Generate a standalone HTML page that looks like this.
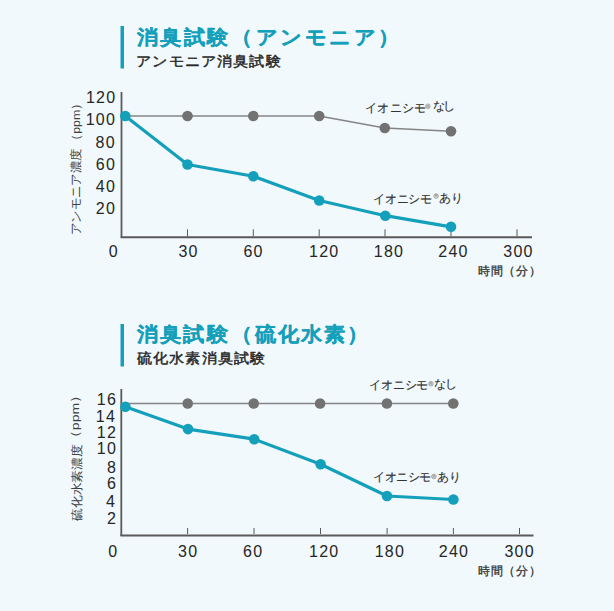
<!DOCTYPE html>
<html lang="ja">
<head>
<meta charset="utf-8">
<style>
html,body{margin:0;padding:0;background:#f1f9fc;}
body{width:614px;height:611px;overflow:hidden;position:relative;}
svg{position:absolute;left:0;top:0;font-family:"Liberation Sans",sans-serif;}
</style>
</head>
<body>
<svg width="614" height="611" viewBox="0 0 614 611">
<rect x="120.5" y="26" width="3.5" height="42.5" fill="#14a0bb"/>
<rect x="120.5" y="324" width="3.5" height="42.5" fill="#14a0bb"/>
<line x1="121.5" y1="92" x2="121.5" y2="237.5" stroke="#5a5a5a" stroke-width="1.8"/>
<line x1="120.6" y1="237.2" x2="532" y2="237.2" stroke="#5a5a5a" stroke-width="2"/>
<line x1="187.5" y1="229.3" x2="187.5" y2="236.5" stroke="#5a5a5a" stroke-width="1"/>
<line x1="253.3" y1="229.3" x2="253.3" y2="236.5" stroke="#5a5a5a" stroke-width="1"/>
<line x1="319.2" y1="229.3" x2="319.2" y2="236.5" stroke="#5a5a5a" stroke-width="1"/>
<line x1="385" y1="229.3" x2="385" y2="236.5" stroke="#5a5a5a" stroke-width="1"/>
<line x1="451" y1="229.3" x2="451" y2="236.5" stroke="#5a5a5a" stroke-width="1"/>
<line x1="517" y1="229.3" x2="517" y2="236.5" stroke="#5a5a5a" stroke-width="1"/>
<polyline points="125.3,116 187.5,116 253.3,116 319.2,116 384.8,128 451,131.3" fill="none" stroke="#858585" stroke-width="1.5" stroke-linejoin="round"/>
<circle cx="187.5" cy="116" r="5.3" fill="#727272"/><circle cx="253.3" cy="116" r="5.3" fill="#727272"/><circle cx="319.2" cy="116" r="5.3" fill="#727272"/><circle cx="384.8" cy="128" r="5.3" fill="#727272"/><circle cx="451" cy="131.3" r="5.3" fill="#727272"/>
<polyline points="125.3,116 187.5,164.5 253.3,176.3 319.2,200.5 385.3,215.7 451,226.8" fill="none" stroke="#14a0bb" stroke-width="3.2" stroke-linejoin="round"/>
<circle cx="125.3" cy="116" r="5.3" fill="#14a0bb"/><circle cx="187.5" cy="164.5" r="5.3" fill="#14a0bb"/><circle cx="253.3" cy="176.3" r="5.3" fill="#14a0bb"/><circle cx="319.2" cy="200.5" r="5.3" fill="#14a0bb"/><circle cx="385.3" cy="215.7" r="5.3" fill="#14a0bb"/><circle cx="451" cy="226.8" r="5.3" fill="#14a0bb"/>
<line x1="121.3" y1="389" x2="121.3" y2="536" stroke="#5a5a5a" stroke-width="1.8"/>
<line x1="120.4" y1="535.4" x2="533.5" y2="535.4" stroke="#5a5a5a" stroke-width="2"/>
<line x1="187.6" y1="528" x2="187.6" y2="534" stroke="#5a5a5a" stroke-width="1"/>
<line x1="254" y1="528" x2="254" y2="534" stroke="#5a5a5a" stroke-width="1"/>
<line x1="320.5" y1="528" x2="320.5" y2="534" stroke="#5a5a5a" stroke-width="1"/>
<line x1="387.1" y1="528" x2="387.1" y2="534" stroke="#5a5a5a" stroke-width="1"/>
<line x1="453.4" y1="528" x2="453.4" y2="534" stroke="#5a5a5a" stroke-width="1"/>
<line x1="519.5" y1="528" x2="519.5" y2="534" stroke="#5a5a5a" stroke-width="1"/>
<polyline points="125.4,403.5 187.7,403.5 253.7,403.5 320.1,403.5 386.9,403.5 453.3,403.5" fill="none" stroke="#858585" stroke-width="1.5" stroke-linejoin="round"/>
<circle cx="187.7" cy="403.5" r="5.3" fill="#727272"/><circle cx="253.7" cy="403.5" r="5.3" fill="#727272"/><circle cx="320.1" cy="403.5" r="5.3" fill="#727272"/><circle cx="386.9" cy="403.5" r="5.3" fill="#727272"/><circle cx="453.3" cy="403.5" r="5.3" fill="#727272"/>
<polyline points="125.4,406.7 188,429.1 254.2,439.2 320.6,464.3 387,496 453.4,499.5" fill="none" stroke="#14a0bb" stroke-width="3.2" stroke-linejoin="round"/>
<circle cx="125.4" cy="406.7" r="5.3" fill="#14a0bb"/><circle cx="188" cy="429.1" r="5.3" fill="#14a0bb"/><circle cx="254.2" cy="439.2" r="5.3" fill="#14a0bb"/><circle cx="320.6" cy="464.3" r="5.3" fill="#14a0bb"/><circle cx="387" cy="496" r="5.3" fill="#14a0bb"/><circle cx="453.4" cy="499.5" r="5.3" fill="#14a0bb"/>
<text transform="translate(137.00,43.50) scale(1.06,1)" font-size="19.5" fill="#14a0bb" font-weight="bold" letter-spacing="2.655" stroke="#14a0bb" stroke-width="0.25" stroke-linejoin="round">消臭試験</text>
<text transform="translate(231.00,43.50) scale(1.06,1)" font-size="19.5" fill="#14a0bb" font-weight="bold" letter-spacing="3.708" stroke="#14a0bb" stroke-width="0.25" stroke-linejoin="round">（アンモニア）</text>
<text transform="translate(136.30,65.70) scale(1.08,1)" font-size="14" fill="#262626" letter-spacing="0.548" stroke="#262626" stroke-width="0.45" stroke-linejoin="round">アンモニア消臭試験</text>
<text x="116.25" y="102.85" font-size="16" fill="#262626" text-anchor="end" letter-spacing="1.2">120</text>
<text x="116.00" y="125.40" font-size="16" fill="#262626" text-anchor="end" letter-spacing="1.2">100</text>
<text x="115.75" y="147.80" font-size="16" fill="#262626" text-anchor="end" letter-spacing="1.2">80</text>
<text x="116.00" y="169.80" font-size="16" fill="#262626" text-anchor="end" letter-spacing="1.2">60</text>
<text x="116.00" y="191.80" font-size="16" fill="#262626" text-anchor="end" letter-spacing="1.2">40</text>
<text x="116.00" y="213.75" font-size="16" fill="#262626" text-anchor="end" letter-spacing="1.2">20</text>
<text x="113.80" y="256.75" font-size="16" fill="#262626" text-anchor="middle" letter-spacing="1.2">0</text>
<text x="188.60" y="256.75" font-size="16" fill="#262626" text-anchor="middle" letter-spacing="1.2">30</text>
<text x="253.60" y="256.75" font-size="16" fill="#262626" text-anchor="middle" letter-spacing="1.2">60</text>
<text x="324.20" y="256.75" font-size="16" fill="#262626" text-anchor="middle" letter-spacing="1.2">120</text>
<text x="389.00" y="256.75" font-size="16" fill="#262626" text-anchor="middle" letter-spacing="1.2">180</text>
<text x="453.50" y="256.75" font-size="16" fill="#262626" text-anchor="middle" letter-spacing="1.2">240</text>
<text x="518.50" y="256.75" font-size="16" fill="#262626" text-anchor="middle" letter-spacing="1.2">300</text>
<text x="478.20" y="275.00" font-size="12" fill="#333333" letter-spacing="0.65" stroke="#333333" stroke-width="0.3" stroke-linejoin="round">時間（分）</text>
<text x="364.80" y="111.70" font-size="11.5" fill="#333333" letter-spacing="0.375" stroke="#333333" stroke-width="0.15" stroke-linejoin="round">イオニシモ</text>
<circle cx="427.85" cy="106.25" r="2.3" fill="#d6d9db" stroke="#9a9a9a" stroke-width="0.8"/><text x="427.85" y="107.55" font-size="3.8" text-anchor="middle" fill="#777">R</text>
<text x="432.60" y="110.00" font-size="11.5" fill="#333333" letter-spacing="-1.4" stroke="#333333" stroke-width="0.15" stroke-linejoin="round">なし</text>
<text x="373.20" y="202.70" font-size="11.5" fill="#333333" letter-spacing="-0.275" stroke="#333333" stroke-width="0.15" stroke-linejoin="round">イオニシモ</text>
<circle cx="436.10" cy="196.05" r="2.3" fill="#d6d9db" stroke="#9a9a9a" stroke-width="0.8"/><text x="436.10" y="197.35" font-size="3.8" text-anchor="middle" fill="#777">R</text>
<text x="439.40" y="202.20" font-size="11.5" fill="#333333" letter-spacing="-0.8" stroke="#333333" stroke-width="0.15" stroke-linejoin="round">あり</text>
<text transform="translate(137.00,341.00) scale(1.06,1)" font-size="19.5" fill="#14a0bb" font-weight="bold" letter-spacing="2.5" stroke="#14a0bb" stroke-width="0.25" stroke-linejoin="round">消臭試験</text>
<text transform="translate(231.40,341.00) scale(1.06,1)" font-size="19.5" fill="#14a0bb" font-weight="bold" letter-spacing="2.433" stroke="#14a0bb" stroke-width="0.25" stroke-linejoin="round">（硫化水素）</text>
<text transform="translate(137.10,363.40) scale(1.08,1)" font-size="14" fill="#262626" letter-spacing="0.525" stroke="#262626" stroke-width="0.45" stroke-linejoin="round">硫化水素消臭試験</text>
<text x="117.00" y="404.80" font-size="16" fill="#262626" text-anchor="end" letter-spacing="1.2">16</text>
<text x="116.00" y="421.60" font-size="16" fill="#262626" text-anchor="end" letter-spacing="1.2">14</text>
<text x="117.00" y="438.40" font-size="16" fill="#262626" text-anchor="end" letter-spacing="1.2">12</text>
<text x="117.00" y="454.40" font-size="16" fill="#262626" text-anchor="end" letter-spacing="1.2">10</text>
<text x="117.00" y="472.80" font-size="16" fill="#262626" text-anchor="end" letter-spacing="1.2">8</text>
<text x="117.00" y="489.40" font-size="16" fill="#262626" text-anchor="end" letter-spacing="1.2">6</text>
<text x="116.00" y="506.60" font-size="16" fill="#262626" text-anchor="end" letter-spacing="1.2">4</text>
<text x="117.00" y="523.80" font-size="16" fill="#262626" text-anchor="end" letter-spacing="1.2">2</text>
<text x="113.40" y="556.50" font-size="16" fill="#262626" text-anchor="middle" letter-spacing="1.2">0</text>
<text x="188.20" y="556.50" font-size="16" fill="#262626" text-anchor="middle" letter-spacing="1.2">30</text>
<text x="253.20" y="556.50" font-size="16" fill="#262626" text-anchor="middle" letter-spacing="1.2">60</text>
<text x="324.20" y="556.50" font-size="16" fill="#262626" text-anchor="middle" letter-spacing="1.2">120</text>
<text x="389.90" y="556.50" font-size="16" fill="#262626" text-anchor="middle" letter-spacing="1.2">180</text>
<text x="454.00" y="556.50" font-size="16" fill="#262626" text-anchor="middle" letter-spacing="1.2">240</text>
<text x="519.60" y="556.50" font-size="16" fill="#262626" text-anchor="middle" letter-spacing="1.2">300</text>
<text x="478.20" y="574.90" font-size="12" fill="#333333" letter-spacing="0.65" stroke="#333333" stroke-width="0.3" stroke-linejoin="round">時間（分）</text>
<text x="369.40" y="389.40" font-size="11.5" fill="#333333" letter-spacing="-0.275" stroke="#333333" stroke-width="0.15" stroke-linejoin="round">イオニシモ</text>
<circle cx="430.95" cy="383.75" r="2.3" fill="#d6d9db" stroke="#9a9a9a" stroke-width="0.8"/><text x="430.95" y="385.05" font-size="3.8" text-anchor="middle" fill="#777">R</text>
<text x="434.00" y="388.00" font-size="11.5" fill="#333333" letter-spacing="-1.0" stroke="#333333" stroke-width="0.15" stroke-linejoin="round">なし</text>
<text x="373.10" y="480.80" font-size="11.5" fill="#333333" letter-spacing="-0.5" stroke="#333333" stroke-width="0.15" stroke-linejoin="round">イオニシモ</text>
<circle cx="433.85" cy="476.45" r="2.3" fill="#d6d9db" stroke="#9a9a9a" stroke-width="0.8"/><text x="433.85" y="477.75" font-size="3.8" text-anchor="middle" fill="#777">R</text>
<text x="437.40" y="481.10" font-size="11.5" fill="#333333" letter-spacing="-0.4" stroke="#333333" stroke-width="0.15" stroke-linejoin="round">あり</text>
<text transform="translate(80.05,235.00) rotate(-90)" font-size="11.5" fill="#404040" textLength="86.62" lengthAdjust="spacingAndGlyphs">アンモニア濃度</text>
<text transform="translate(79.65,146.80) rotate(-90)" font-size="11.5" fill="#404040" textLength="50.04" lengthAdjust="spacingAndGlyphs">（ppm）</text>
<text transform="translate(81.05,521.00) rotate(-90)" font-size="11.5" fill="#404040" textLength="76.62" lengthAdjust="spacingAndGlyphs">硫化水素濃度</text>
<text transform="translate(78.75,444.80) rotate(-90)" font-size="11.5" fill="#404040" textLength="56.70" lengthAdjust="spacingAndGlyphs">（ppm）</text>
</svg>
</body>
</html>
